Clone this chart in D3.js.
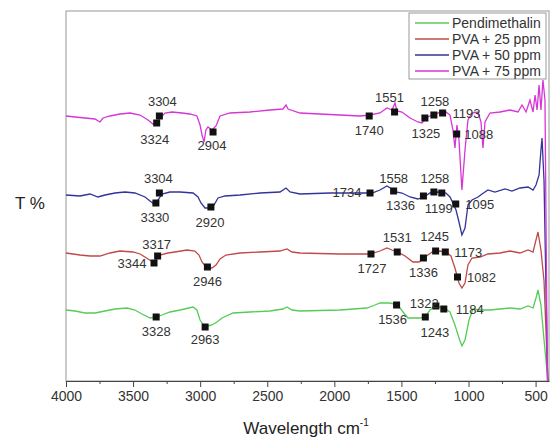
<!DOCTYPE html>
<html>
<head>
<meta charset="utf-8">
<script src="https://cdn.jsdelivr.net/npm/d3@7"></script>
<style>
  body { margin: 0; background: #fff; }
  svg { display: block; font-family: "Liberation Sans", Arial, sans-serif; }
</style>
</head>
<body>
<svg width="551" height="437"></svg>
<script>
// FTIR spectra, wavenumber (cm-1) against offset transmittance
var seriesNames = ["Pendimethalin", "PVA + 25 ppm", "PVA + 50 ppm", "PVA + 75 ppm"];
var seriesColors = ["#55cc55", "#c04a48", "#33339a", "#d636d6"];
var xTicks = [4000, 3500, 3000, 2500, 2000, 1500, 1000, 500];

var pendimethalin = [
  [4000, 71], [3933, 70], [3858, 68], [3784, 68], [3709, 70], [3635, 72], [3545, 73], [3486, 71],
  [3434, 67], [3374, 63], [3329, 64], [3285, 66], [3225, 69], [3150, 71], [3053, 74], [3024, 71],
  [3001, 61], [2971, 55], [2942, 55], [2912, 56], [2875, 59], [2837, 63], [2755, 68], [2629, 69],
  [2480, 70], [2383, 72], [2353, 74], [2316, 71], [2256, 70], [1958, 71], [1757, 73], [1697, 76],
  [1660, 78], [1585, 78], [1526, 76], [1488, 69], [1451, 63], [1362, 63], [1324, 64], [1287, 71],
  [1242, 75], [1183, 73], [1138, 69], [1101, 56], [1071, 43], [1049, 35], [1026, 41], [996, 61],
  [967, 72], [914, 71], [840, 71], [765, 72], [691, 73], [616, 72], [556, 75], [519, 73],
  [497, 83], [482, 91], [460, 76], [437, 41], [408, 0]
];

var pva25 = [
  [4000, 128], [3896, 126], [3821, 125], [3747, 125], [3672, 128], [3598, 130], [3500, 129], [3448, 127],
  [3389, 122], [3352, 119], [3329, 121], [3299, 126], [3240, 128], [3188, 129], [3098, 131], [3039, 130],
  [3009, 126], [2986, 119], [2957, 114], [2912, 113], [2882, 116], [2852, 122], [2808, 126], [2703, 128],
  [2554, 129], [2405, 130], [2353, 132], [2316, 129], [2256, 128], [1958, 127], [1734, 127], [1660, 130],
  [1608, 133], [1570, 131], [1526, 129], [1473, 125], [1414, 119], [1369, 119], [1324, 124], [1272, 129],
  [1213, 130], [1168, 129], [1131, 125], [1101, 113], [1071, 98], [1049, 93], [1026, 98], [1004, 116],
  [974, 123], [914, 124], [855, 127], [765, 128], [691, 130], [616, 128], [556, 131], [519, 129],
  [497, 141], [482, 149], [460, 131], [437, 100], [408, 0]
];

var pva50 = [
  [4000, 186], [3896, 185], [3821, 187], [3762, 184], [3709, 186], [3635, 188], [3560, 189], [3486, 188],
  [3411, 184], [3374, 180], [3344, 177], [3314, 181], [3285, 187], [3225, 189], [3150, 189], [3053, 188],
  [3016, 184], [2994, 178], [2964, 173], [2927, 173], [2897, 176], [2867, 183], [2815, 185], [2703, 186],
  [2554, 188], [2405, 189], [2360, 193], [2330, 189], [2256, 187], [2032, 188], [1809, 188], [1719, 188],
  [1660, 191], [1608, 195], [1570, 192], [1540, 189], [1496, 188], [1436, 184], [1377, 182], [1332, 184],
  [1287, 188], [1228, 189], [1168, 188], [1138, 184], [1116, 178], [1093, 171], [1071, 159], [1049, 146],
  [1026, 153], [1004, 176], [974, 181], [929, 184], [899, 187], [855, 191], [803, 189], [728, 192],
  [676, 190], [616, 193], [556, 194], [519, 191], [497, 196], [474, 206], [460, 231], [452, 243],
  [437, 200], [410, 0]
];

var pva75 = [
  [4000, 265], [3933, 264], [3858, 263], [3784, 262], [3747, 259], [3724, 263], [3672, 265], [3598, 267],
  [3523, 268], [3448, 266], [3389, 261], [3352, 257], [3322, 258], [3299, 263], [3262, 268], [3210, 269],
  [3135, 268], [3076, 267], [3024, 265], [3001, 256], [2986, 246], [2971, 239], [2957, 251], [2942, 254],
  [2912, 251], [2882, 255], [2852, 265], [2778, 268], [2629, 269], [2480, 271], [2383, 272], [2360, 276],
  [2345, 272], [2256, 268], [2107, 267], [1958, 266], [1809, 265], [1734, 266], [1660, 268], [1608, 273],
  [1570, 271], [1548, 278], [1533, 270], [1496, 269], [1436, 263], [1377, 259], [1347, 258], [1317, 263],
  [1272, 266], [1228, 268], [1168, 269], [1138, 266], [1116, 251], [1101, 233], [1086, 256], [1071, 241],
  [1049, 191], [1026, 231], [1004, 261], [974, 268], [929, 269], [907, 259], [892, 233], [877, 259],
  [840, 268], [765, 269], [691, 271], [631, 269], [601, 276], [571, 269], [542, 281], [519, 269],
  [504, 286], [489, 271], [474, 296], [460, 271], [445, 301], [430, 281], [412, 0]
];

// marked peaks: [wavenumber, transmittance]
var peaksPendimethalin = [[3328, 64], [2963, 54], [1536, 76], [1322, 64], [1243, 75], [1184, 72]];
var peaksPva25 = [[3317, 125], [3344, 118], [2946, 114], [1727, 127], [1531, 129], [1336, 123], [1245, 130], [1173, 129], [1082, 104]];
var peaksPva50 = [[3304, 188], [3330, 178], [2920, 174], [1734, 188], [1558, 190], [1336, 185], [1258, 189], [1199, 188], [1095, 177]];
var peaksPva75 = [[3304, 265], [3324, 258], [2904, 249], [1740, 265], [1551, 269], [1325, 263], [1258, 266], [1193, 268], [1088, 247]];

// where each peak label sits relative to its marker (same order as the peaks)
var shiftPendimethalin = [[0, 14], [0, 12], [-4, 14], [-1, -14], [-1, 26], [26, 0]];
var shiftPva25 = [[-1, -12], [-22, 0], [0, 14], [1, 14], [0, -15], [0, 14], [-1, -15], [23, 0], [24, 0]];
var shiftPva50 = [[-1, -15], [-1, 14], [-1, 15], [-23, -1], [0, -13], [-23, 9], [1, -14], [-3, 15], [24, 0]];
var shiftPva75 = [[3, -15], [-2, 16], [-1, 13], [0, 14], [-5, -15], [1, 15], [1, -14], [24, 0], [22, 0]];

var spectra = [pendimethalin, pva25, pva50, pva75];
var peaks = [peaksPendimethalin, peaksPva25, peaksPva50, peaksPva75];
var shifts = [shiftPendimethalin, shiftPva25, shiftPva50, shiftPva75];

var svg = d3.select("svg");
var margin = {top: 11, right: 2, bottom: 56, left: 66};
var width = +svg.attr("width") - margin.left - margin.right;
var height = +svg.attr("height") - margin.top - margin.bottom;
var group = svg.append("g").attr("transform", "translate(" + margin.left + "," + margin.top + ")");

var x = d3.scaleLinear().domain([4000, 400]).range([0, width]);
var y = d3.scaleLinear().domain([0, 370]).range([height, 0]);

/* frame */
group.append("rect")
    .attr("width", width)
    .attr("height", height)
    .attr("fill", "none")
    .attr("stroke", "#a8a8a8")
    .attr("stroke-width", 1.2);

/* minor ticks */
group.append("g")
    .attr("transform", "translate(0," + height + ")")
    .call(d3.axisBottom(x).tickValues(xTicks.map(function(d) { return d - 250; }).filter(function(d) { return d > 400; })).tickSize(3).tickFormat(""))
    .call(function(g) { g.select(".domain").remove(); })
    .selectAll("line").attr("stroke", "#444");

/* x axis */
var xAxis = group.append("g")
    .attr("transform", "translate(0," + height + ")")
    .call(d3.axisBottom(x).tickValues(xTicks).tickFormat(d3.format("d")).tickSize(6).tickPadding(4).tickSizeOuter(0));
xAxis.select(".domain").attr("stroke", "#444").attr("stroke-width", 1.2);
xAxis.selectAll("line").attr("stroke", "#444");
xAxis.selectAll("text").attr("font-size", 14).attr("fill", "#333").attr("font-family", "Liberation Sans, Arial, sans-serif");

/* spectra */
var line = d3.line()
    .x(function(d) { return x(d[0]); })
    .y(function(d) { return y(d[1]); });

group.selectAll(".spectrum")
    .data(spectra)
  .enter().append("path")
    .attr("class", "spectrum")
    .attr("fill", "none")
    .attr("stroke", function(d, i) { return seriesColors[i]; })
    .attr("stroke-width", 1.3)
    .attr("d", line);

/* peak markers and labels */
peaks.forEach(function(list, s) {
  var g = group.append("g");
  g.selectAll("rect")
      .data(list)
    .enter().append("rect")
      .attr("x", function(d) { return x(d[0]) - 3.5; })
      .attr("y", function(d) { return y(d[1]) - 3.5; })
      .attr("width", 7)
      .attr("height", 7)
      .attr("fill", "#111");
  g.selectAll("text")
      .data(list)
    .enter().append("text")
      .attr("x", function(d, i) { return x(d[0]) + shifts[s][i][0]; })
      .attr("y", function(d, i) { return y(d[1]) + shifts[s][i][1]; })
      .attr("dy", "0.35em")
      .attr("text-anchor", "middle")
      .attr("font-size", 13)
      .attr("fill", "#333")
      .text(function(d) { return d[0]; });
});

/* axis titles */
var title = svg.append("text")
    .attr("x", 306)
    .attr("y", 434)
    .attr("text-anchor", "middle")
    .attr("font-size", 17)
    .attr("fill", "#222");
title.append("tspan").text("Wavelength cm");
title.append("tspan").attr("font-size", 10).attr("dy", -8).text("-1");

svg.append("text")
    .attr("x", 30)
    .attr("y", 209)
    .attr("text-anchor", "middle")
    .attr("font-size", 17)
    .attr("fill", "#222")
    .text("T %");

/* legend */
var legend = svg.append("g").attr("transform", "translate(409,13)");
legend.append("rect")
    .attr("width", 137)
    .attr("height", 66)
    .attr("fill", "#fff")
    .attr("stroke", "#999");

var item = legend.selectAll(".item")
    .data(seriesNames)
  .enter().append("g")
    .attr("class", "item")
    .attr("transform", function(d, i) { return "translate(0," + (10 + i * 16) + ")"; });

item.append("line")
    .attr("x1", 6)
    .attr("x2", 40)
    .attr("stroke", function(d, i) { return seriesColors[i]; })
    .attr("stroke-width", 1.3);

item.append("text")
    .attr("x", 43)
    .attr("dy", "0.35em")
    .attr("font-size", 14)
    .attr("fill", "#333")
    .text(function(d) { return d; });
</script>
</body>
</html>
